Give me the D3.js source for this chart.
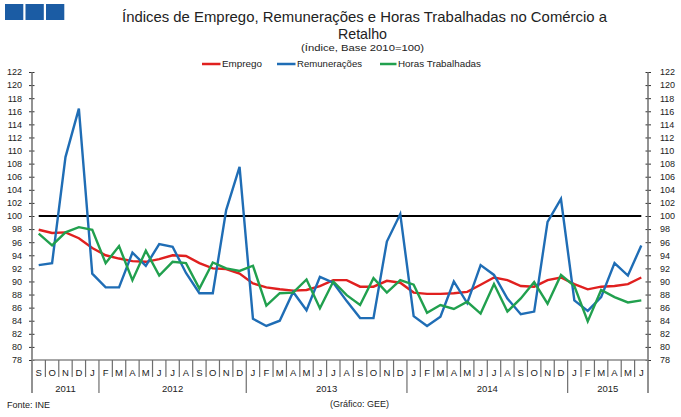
<!DOCTYPE html>
<html>
<head>
<meta charset="utf-8">
<script src="https://cdn.jsdelivr.net/npm/d3@7"></script>
<style>
  html, body { margin: 0; padding: 0; background: #fff; }
  svg text { font-family: "Liberation Sans", Arial, sans-serif; fill: #222; }
</style>
</head>
<body>
<svg id="chart" width="681" height="417"></svg>
<script>
// ---- Data ----
const months = ["S","O","N","D",
  "J","F","M","A","M","J","J","A","S","O","N","D",
  "J","F","M","A","M","J","J","A","S","O","N","D",
  "J","F","M","A","M","J","J","A","S","O","N","D",
  "J","F","M","A","M","J"];
const yearLabels = ["2011","2012","2013","2014","2015"];
const yearSpans = [5, 11, 12, 12, 6]; // number of month categories under each year label

const emprego = [97.9,97.4,97.5,96.6,95.1,94.0,93.5,93.1,93.0,93.4,94.0,93.9,92.8,92.0,91.9,91.2,
  89.7,89.1,88.8,88.6,88.7,89.3,90.2,90.2,89.2,89.2,90.1,89.8,88.3,88.1,88.1,88.2,88.4,89.5,90.6,90.2,
  89.3,89.2,90.2,90.6,89.6,88.8,89.2,89.3,89.6,90.6];
const remuneracoes = [92.5,92.8,109.0,116.4,91.2,89.1,89.1,94.4,92.4,95.7,95.3,91.3,88.2,88.2,100.9,107.5,
  84.3,83.2,84.0,88.4,85.6,90.7,89.8,87.0,84.4,84.4,96.1,100.3,84.7,83.2,84.6,90.0,86.7,92.5,91.0,87.4,
  85.0,85.4,99.1,102.6,87.1,85.5,87.6,92.8,90.9,95.5];
const horas = [97.3,95.5,97.5,98.3,97.9,92.8,95.4,90.2,94.7,90.9,93.0,92.8,88.9,92.9,92.0,91.6,
  92.4,86.3,88.2,88.3,90.3,85.9,90.0,87.9,86.4,90.5,88.3,90.2,89.5,85.2,86.4,85.8,86.9,85.1,89.6,85.4,
  87.4,89.9,86.6,91.0,89.3,83.9,88.7,87.6,86.8,87.1];
const baseValue = 100;
const yTicks = d3.range(78, 123, 2);

const seriesNames = ["Emprego", "Remunerações", "Horas Trabalhadas"];
const seriesColors = ["#e0201f", "#1f6db5", "#21a04e"];
const seriesData = [emprego, remuneracoes, horas];

// ---- Layout ----
const svg = d3.select("#chart");
const pL = 32, pR = 648, pT = 72, pB = 360;

const x = d3.scaleBand().domain(d3.range(months.length)).range([pL, pR]).padding(0);
const y = d3.scaleLinear().domain([78, 122]).range([pB, pT]);
const cx = i => x(i) + x.bandwidth() / 2;

const axisColor = "#6e6e6e";

// Logo squares
[0,1,2].forEach(k => {
  svg.append("rect").attr("x", 5 + k * 20.5).attr("y", 4).attr("width", 18.3).attr("height", 16)
    .attr("fill", "#1b5ca4");
});

// Title
svg.append("text").attr("x", 364.5).attr("y", 22).attr("text-anchor", "middle")
  .attr("font-size", 15).attr("textLength", 485).attr("lengthAdjust", "spacingAndGlyphs")
  .text("Índices de Emprego,  Remunerações e Horas Trabalhadas no Comércio a");
svg.append("text").attr("x", 362.5).attr("y", 38.5).attr("text-anchor", "middle")
  .attr("font-size", 15).attr("textLength", 49).attr("lengthAdjust", "spacingAndGlyphs")
  .text("Retalho");
svg.append("text").attr("x", 362.5).attr("y", 51).attr("text-anchor", "middle")
  .attr("font-size", 9.5).attr("textLength", 123).attr("lengthAdjust", "spacingAndGlyphs")
  .text("(Índice, Base 2010=100)");

// Legend
const legendPos = [[202, 222, 40], [277, 297, 65], [380, 398, 83]];
seriesNames.forEach((n, k) => {
  const [lx, tx, tw] = legendPos[k];
  svg.append("line").attr("x1", lx).attr("x2", tx - 1.5).attr("y1", 64).attr("y2", 64)
    .attr("stroke", seriesColors[k]).attr("stroke-width", 2.5);
  svg.append("text").attr("x", tx).attr("y", 67.2).attr("font-size", 9)
    .attr("textLength", tw).attr("lengthAdjust", "spacingAndGlyphs").text(n);
});

// Y axes
const yl = svg.append("g").attr("transform", `translate(${pL},0)`)
  .call(d3.axisLeft(y).tickValues(yTicks).tickSize(3).tickPadding(7));
yl.selectAll(".tick line").attr("x1", 2.5).attr("x2", -3).attr("stroke", "#333");
yl.select(".domain").remove();
yl.selectAll("text").attr("font-size", 9).attr("font-family", "Liberation Sans, Arial").attr("fill", "#333");

const yr = svg.append("g").attr("transform", `translate(${pR},0)`)
  .call(d3.axisRight(y).tickValues(yTicks).tickSize(3).tickPadding(9));
yr.selectAll(".tick line").attr("x1", -2.5).attr("x2", 3).attr("stroke", "#333");
yr.select(".domain").remove();
yr.selectAll("text").attr("font-size", 9).attr("font-family", "Liberation Sans, Arial").attr("fill", "#333");

// axis lines
svg.append("line").attr("x1", pL).attr("x2", pL).attr("y1", pT).attr("y2", 393)
  .attr("stroke", axisColor).attr("stroke-width", 1.5);
svg.append("line").attr("x1", pR).attr("x2", pR).attr("y1", pT).attr("y2", 393)
  .attr("stroke", axisColor).attr("stroke-width", 1.5);
svg.append("line").attr("x1", pL).attr("x2", pR).attr("y1", pB).attr("y2", pB)
  .attr("stroke", "#8a8a8a").attr("stroke-width", 1.5);

// X axis: month labels, separators, years
const yearBounds = [];
let acc = 0;
yearSpans.forEach(s => { yearBounds.push([acc, acc + s]); acc += s; });
const yearStarts = new Set(yearBounds.map(b => b[0]));

d3.range(1, months.length).forEach(i => {
  const isLong = yearStarts.has(i);
  svg.append("line").attr("x1", x(i)).attr("x2", x(i)).attr("y1", pB)
    .attr("y2", isLong ? 393 : 377).attr("stroke", axisColor).attr("stroke-width", 1.2);
});
months.forEach((m, i) => {
  svg.append("text").attr("x", cx(i)).attr("y", 375.5).attr("text-anchor", "middle")
    .attr("font-size", 9.5).attr("fill", "#333").text(m);
});
yearLabels.forEach((lab, k) => {
  const [a, b] = yearBounds[k];
  const xm = (x(a) + (b < months.length ? x(b) : pR)) / 2;
  svg.append("text").attr("x", xm).attr("y", 391.5).attr("text-anchor", "middle")
    .attr("font-size", 9.5).attr("fill", "#333").text(lab);
});

// Base 100 line
svg.append("path")
  .datum(months.map(() => baseValue))
  .attr("d", d3.line().x((d, i) => cx(i)).y(d => y(d)))
  .attr("fill", "none").attr("stroke", "#000").attr("stroke-width", 2);

// Series lines
const lineGen = d3.line().x((d, i) => cx(i)).y(d => y(d));
[0, 1, 2].forEach(k => {
  svg.append("path").datum(seriesData[k])
    .attr("d", lineGen)
    .attr("fill", "none").attr("stroke", seriesColors[k]).attr("stroke-width", 2.4)
    .attr("stroke-linejoin", "miter");
});

// Footer
svg.append("text").attr("x", 7).attr("y", 408).attr("font-size", 9).attr("fill", "#333").text("Fonte: INE");
svg.append("text").attr("x", 330).attr("y", 407).attr("font-size", 9).attr("fill", "#333").text("(Gráfico: GEE)");
</script>
</body>
</html>
